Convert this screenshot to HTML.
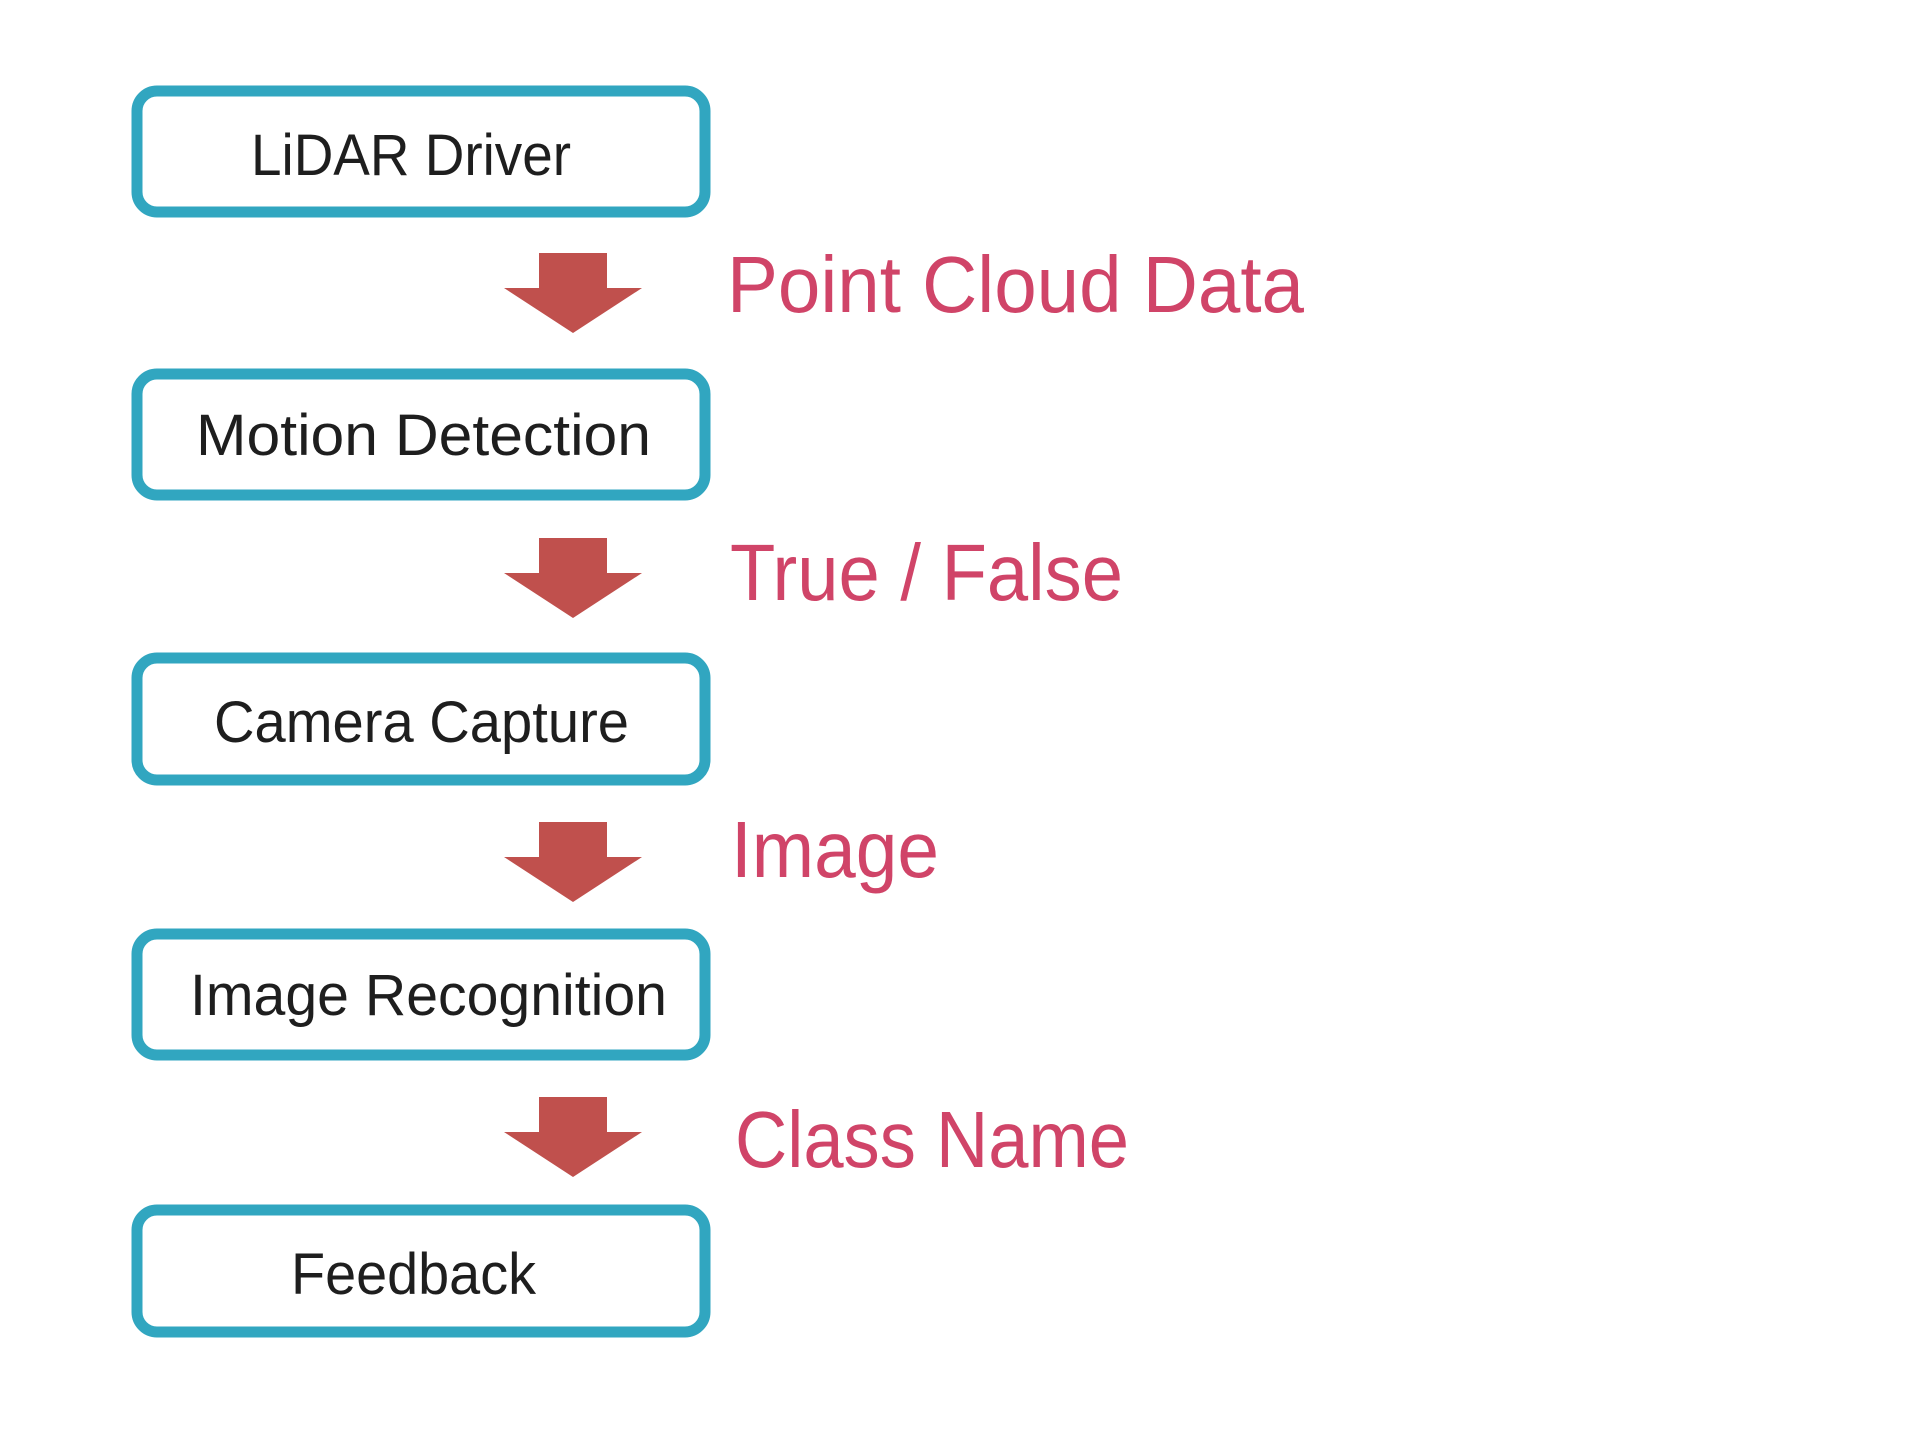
<!DOCTYPE html>
<html><head><meta charset="utf-8"><style>
html,body{margin:0;padding:0;background:#fff;width:1920px;height:1440px;overflow:hidden}
svg{display:block}
.b{fill:#fff;stroke:#31A6C0;stroke-width:11}
.t{font-family:"Liberation Sans",sans-serif;font-size:58px;fill:#1e1e1e}
.l{font-family:"Liberation Sans",sans-serif;font-size:80px;fill:#D04468}
.a{fill:#C0504D}
</style></head><body>
<svg width="1920" height="1440" viewBox="0 0 1920 1440" xmlns="http://www.w3.org/2000/svg">
<rect class="b" x="137" y="91" width="568" height="121" rx="20"/>
<rect class="b" x="137" y="374" width="568" height="121" rx="20"/>
<rect class="b" x="137" y="658" width="568" height="122" rx="20"/>
<rect class="b" x="137" y="934" width="568" height="121" rx="20"/>
<rect class="b" x="137" y="1210" width="568" height="122" rx="20"/>

<text class="t" x="251" y="175" textLength="320" lengthAdjust="spacingAndGlyphs">LiDAR Driver</text>
<text class="t" x="196" y="455" textLength="455" lengthAdjust="spacingAndGlyphs">Motion Detection</text>
<text class="t" x="214" y="742" textLength="415" lengthAdjust="spacingAndGlyphs">Camera Capture</text>
<text class="t" x="190" y="1015" textLength="477" lengthAdjust="spacingAndGlyphs">Image Recognition</text>
<text class="t" x="291" y="1294" textLength="245" lengthAdjust="spacingAndGlyphs">Feedback</text>

<polygon class="a" points="539,253 607,253 607,288 642,288 573,333 504,288 539,288"/>
<polygon class="a" points="539,538 607,538 607,573 642,573 573,618 504,573 539,573"/>
<polygon class="a" points="539,822 607,822 607,857 642,857 573,902 504,857 539,857"/>
<polygon class="a" points="539,1097 607,1097 607,1132 642,1132 573,1177 504,1132 539,1132"/>

<text class="l" x="727" y="312" textLength="577" lengthAdjust="spacingAndGlyphs">Point Cloud Data</text>
<text class="l" x="730" y="600" textLength="393" lengthAdjust="spacingAndGlyphs">True / False</text>
<text class="l" x="731" y="877" textLength="208" lengthAdjust="spacingAndGlyphs">Image</text>
<text class="l" x="735" y="1167" textLength="394" lengthAdjust="spacingAndGlyphs">Class Name</text>
</svg>
</body></html>
